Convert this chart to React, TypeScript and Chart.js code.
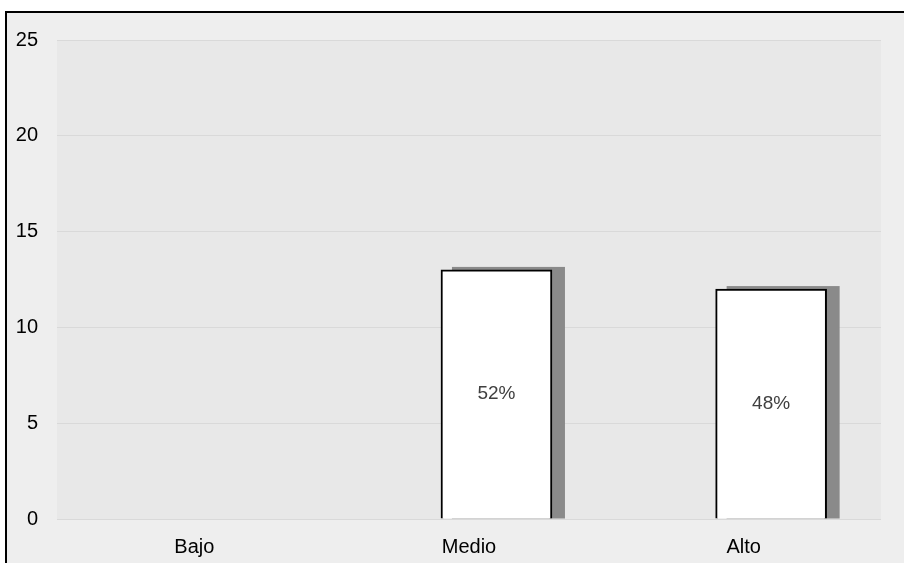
import React, { useEffect, useRef } from 'react';
import { Chart, registerables } from 'chart.js';

Chart.register(...registerables);

const categories: string[] = ['Bajo', 'Medio', 'Alto'];
const counts: number[] = [0, 13, 12];
const yMin = 0;
const yMax = 25;
const yStep = 5;

const total = counts.reduce((a, b) => a + b, 0);
const percentLabels: string[] = counts.map((v) => (v > 0 ? `${Math.round((v / total) * 100)}%` : ''));

const plotBgPlugin = {
  id: 'plotBg',
  beforeDraw(chart: any) {
    const { ctx, chartArea } = chart;
    ctx.save();
    ctx.fillStyle = '#e8e8e8';
    ctx.fillRect(chartArea.left, chartArea.top, chartArea.right - chartArea.left, chartArea.bottom - chartArea.top);
    ctx.restore();
  },
};

const shadowPlugin = {
  id: 'barShadow',
  beforeDatasetsDraw(chart: any) {
    const { ctx } = chart;
    const meta = chart.getDatasetMeta(0);
    ctx.save();
    ctx.fillStyle = '#8a8a8a';
    meta.data.forEach((el: any, i: number) => {
      if (!counts[i]) return;
      const { x, y, base, width } = el.getProps(['x', 'y', 'base', 'width'], true);
      const top = y - 3;
      ctx.fillRect(x - width / 2 + 11, top, width + 2, base - top);
    });
    ctx.restore();
  },
};

const valueLabelPlugin = {
  id: 'valueLabels',
  afterDatasetsDraw(chart: any) {
    const { ctx } = chart;
    const meta = chart.getDatasetMeta(0);
    ctx.save();
    ctx.fillStyle = '#404040';
    ctx.font = '19px "Liberation Sans", Arial, sans-serif';
    ctx.textAlign = 'center';
    ctx.textBaseline = 'middle';
    meta.data.forEach((el: any, i: number) => {
      const label = percentLabels[i];
      if (!label) return;
      const { x, y, base } = el.getProps(['x', 'y', 'base'], true);
      ctx.fillText(label, x, (y + base) / 2);
    });
    ctx.restore();
  },
};

export default function App() {
  const canvasRef = useRef<HTMLCanvasElement | null>(null);

  useEffect(() => {
    if (!canvasRef.current) return;
    const chart = new Chart(canvasRef.current, {
      type: 'bar',
      data: {
        labels: categories,
        datasets: [
          {
            label: 'Frecuencia',
            data: counts.map((v, i) => ({ x: i, y: v })),
            xAxisID: 'xb',
            yAxisID: 'y',
            backgroundColor: '#ffffff',
            borderColor: '#000000',
            borderWidth: 2,
            barThickness: 111,
          } as any,
        ],
      },
      options: {
        animation: false,
        responsive: false,
        maintainAspectRatio: false,
        layout: { padding: { left: 0, right: 23, top: 40, bottom: 4 } },
        plugins: {
          legend: { display: false },
          tooltip: { enabled: false },
          title: { display: false },
        },
        scales: {
          x: {
            type: 'category',
            labels: categories,
            offset: true,
            position: 'bottom',
            grid: { display: false, drawTicks: false },
            border: { display: false },
            ticks: {
              color: '#000000',
              padding: 16,
              maxRotation: 0,
              font: { family: '"Liberation Sans", Arial, sans-serif', size: 20 },
            },
            afterFit(scale: any) {
              scale.height = 40;
            },
          },
          xb: {
            type: 'linear',
            display: false,
            offset: false,
            min: -0.6,
            max: 2.4,
            grid: { offset: false },
          },
          y: {
            min: yMin,
            max: yMax,
            grid: { color: '#d9d9d9', lineWidth: 1, drawTicks: false },
            border: { display: false },
            ticks: {
              stepSize: yStep,
              color: '#000000',
              padding: 19,
              font: { family: '"Liberation Sans", Arial, sans-serif', size: 20 },
            },
            afterFit(scale: any) {
              scale.width = 57;
            },
          },
        },
      } as any,
      plugins: [plotBgPlugin, shadowPlugin, valueLabelPlugin],
    });
    return () => chart.destroy();
  }, []);

  return (
    <div style={{ position: 'fixed', left: 0, top: 0, width: 904, height: 563, background: '#ffffff', overflow: 'hidden' }}>
      <div
        style={{
          position: 'absolute',
          left: 5,
          top: 11,
          width: 940,
          height: 600,
          background: '#eeeeee',
          borderLeft: '2px solid #000000',
          borderTop: '2px solid #000000',
        }}
      />
      <canvas ref={canvasRef} width={904} height={563} style={{ position: 'absolute', left: 0, top: 0, width: 904, height: 563 }} />
    </div>
  );
}
